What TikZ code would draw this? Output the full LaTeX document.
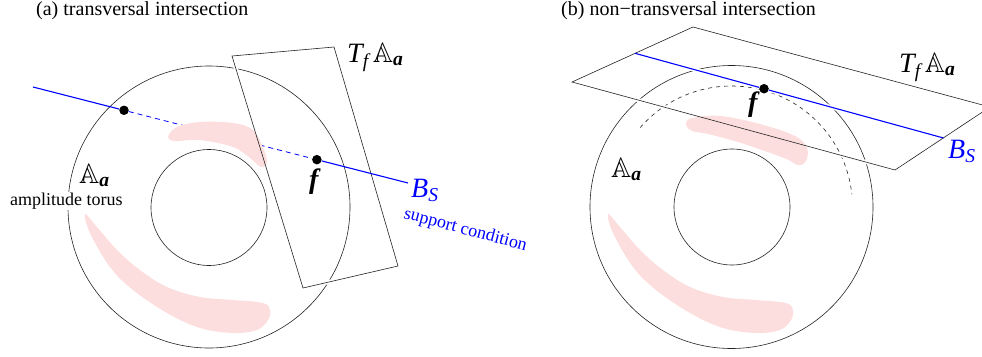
\documentclass[tikz,border=0pt]{standalone}
\usepackage{amsmath,amssymb}
\usepackage{fontspec}
\setmainfont{Liberation Serif}
\usetikzlibrary{calc}
\definecolor{pinkc}{RGB}{253,222,222}
\definecolor{linec}{RGB}{35,35,35}
\begin{document}
\begin{tikzpicture}[x=1pt,y=-1pt,
  circ/.style={draw=linec, line width=0.6pt},
  halo/.style={draw=white, line width=4pt, line join=miter},
  edge/.style={draw=linec, line width=0.6pt, line join=miter},
  bline/.style={draw=blue, line width=1.1pt},
  bdash/.style={draw=blue, line width=0.8pt, dash pattern=on 5pt off 4pt},
  arcdash/.style={draw=linec, line width=0.6pt, dash pattern=on 4pt off 4pt},
  blob/.style={fill=pinkc, draw=none},
  dot/.style={circle, fill=black, inner sep=0pt, minimum size=9.5pt},
  lbl/.style={font=\fontsize{18}{20}\selectfont, inner sep=0pt},
  mlbl/.style={font=\fontsize{28}{32}\selectfont, inner sep=0pt},
  ttl/.style={font=\fontsize{20}{22}\selectfont, inner sep=0pt, anchor=base west}]
\useasboundingbox (0,0) rectangle (982,356);
\clip (0,0) rectangle (982,356);

% ---------------- panel (a) ----------------
\draw[circ] (209,207) circle[radius=141];
\draw[circ] (209,207.5) circle[radius=58];
\coordinate (aR1) at (232,56);
\coordinate (aR2) at (334,47);
\coordinate (aR3) at (398,266);
\coordinate (aR4) at (303,288);
\draw[halo] (aR1) -- (aR2) -- (aR3) -- (aR4) -- cycle;
\coordinate (aS) at (33,87);
\coordinate (aE) at (408,183);
\node[dot] (aP) at ($(aS)!0.2427!(aE)$) {};
\node[dot] (aF) at ($(aS)!0.757!(aE)$) {};
\draw[bdash] (aP) -- (aF);
\fill[blob] plot[smooth cycle, tension=0.6] coordinates {(168,137) (177,127) (200,122) (233,123) (253,130) (263,148) (267,162) (261,167) (250,158) (233,147) (200,140) (175,141)};
\fill[blob] plot[smooth cycle, tension=0.6] coordinates {(85,214) (90,233) (110,267) (133,290) (167,313) (200,328) (233,333) (257,330) (268,320) (270,310) (263,303) (233,300) (200,297) (167,287) (140,270) (117,250) (97,227)};
\draw[edge] (aR1) -- (aR2) -- (aR3) -- (aR4) -- cycle;
\draw[bline] (aS) -- (aP);
\draw[bline] (aF) -- (aE);

\node[ttl] (ta) at (36,15.5) {(a) transversal intersection};
\node[mlbl, anchor=base west] (aA) at (79,183) {$\mathbb{A}_{\textbf{\textit{a}}}$};
\node[lbl, anchor=base west, fill=white, inner sep=1pt] (atorus) at (9,205) {amplitude torus};
\node[mlbl, anchor=base west] (aT) at (347,62) {$\textit{T}_{\textit{f}}\,\mathbb{A}_{\textbf{\textit{a}}}$};
\node[mlbl, anchor=base] (afl) at (315,188) {\textbf{\textit{f}}};
\node[mlbl, anchor=base west, text=blue] (aB) at (411,197) {$\textit{B}_{\textit{S}}$};
\node[lbl, anchor=base west, text=blue, rotate=-15] (asup) at (403,218) {support condition};

% ---------------- panel (b) ----------------
\draw[circ] (731.5,207) circle[radius=141.5];
\draw[circ] (732,207) circle[radius=58];
\draw[arcdash] (731.5,207) ++(-139:121) arc[start angle=-139, end angle=-6, radius=121];
\coordinate (bQ1) at (572,82);
\coordinate (bQ2) at (693,27);
\coordinate (bQ3) at (990,107);
\coordinate (bQ4) at (895,170);
\draw[halo] (bQ1) -- (bQ2) -- (bQ3) -- (bQ4) -- cycle;
\coordinate (bS) at (635,53.3);
\coordinate (bE) at (943.5,138);
\node[dot] (bF) at ($(bS)!0.4182!(bE)$) {};
\draw[halo] (bS) -- (bF) -- (bE);
\fill[blob] plot[smooth cycle, tension=0.6] coordinates {(686,124) (692,118) (720,116) (760,124) (795,136) (807,148) (806,161) (798,165) (784,158) (741,143) (708,134) (692,131)};
\fill[blob, xshift=523pt] plot[smooth cycle, tension=0.6] coordinates {(85,214) (90,233) (110,267) (133,290) (167,313) (200,328) (233,333) (257,330) (268,320) (270,310) (263,303) (233,300) (200,297) (167,287) (140,270) (117,250) (97,227)};
\draw[edge] (bQ1) -- (bQ2) -- (bQ3) -- (bQ4) -- cycle;
\draw[bline] (bS) -- (bF) -- (bE);

\node[ttl] (tb) at (561,15.5) {(b) non−transversal intersection};
\node[mlbl, anchor=base west] (bA) at (611,177) {$\mathbb{A}_{\textbf{\textit{a}}}$};
\node[mlbl, anchor=base west] (bT) at (899,72) {$\textit{T}_{\textit{f}}\,\mathbb{A}_{\textbf{\textit{a}}}$};
\node[mlbl, anchor=base] (bfl) at (754,111) {\textbf{\textit{f}}};
\node[mlbl, anchor=base west, text=blue] (bB) at (948,158) {$\textit{B}_{\textit{S}}$};
\end{tikzpicture}
\end{document}
